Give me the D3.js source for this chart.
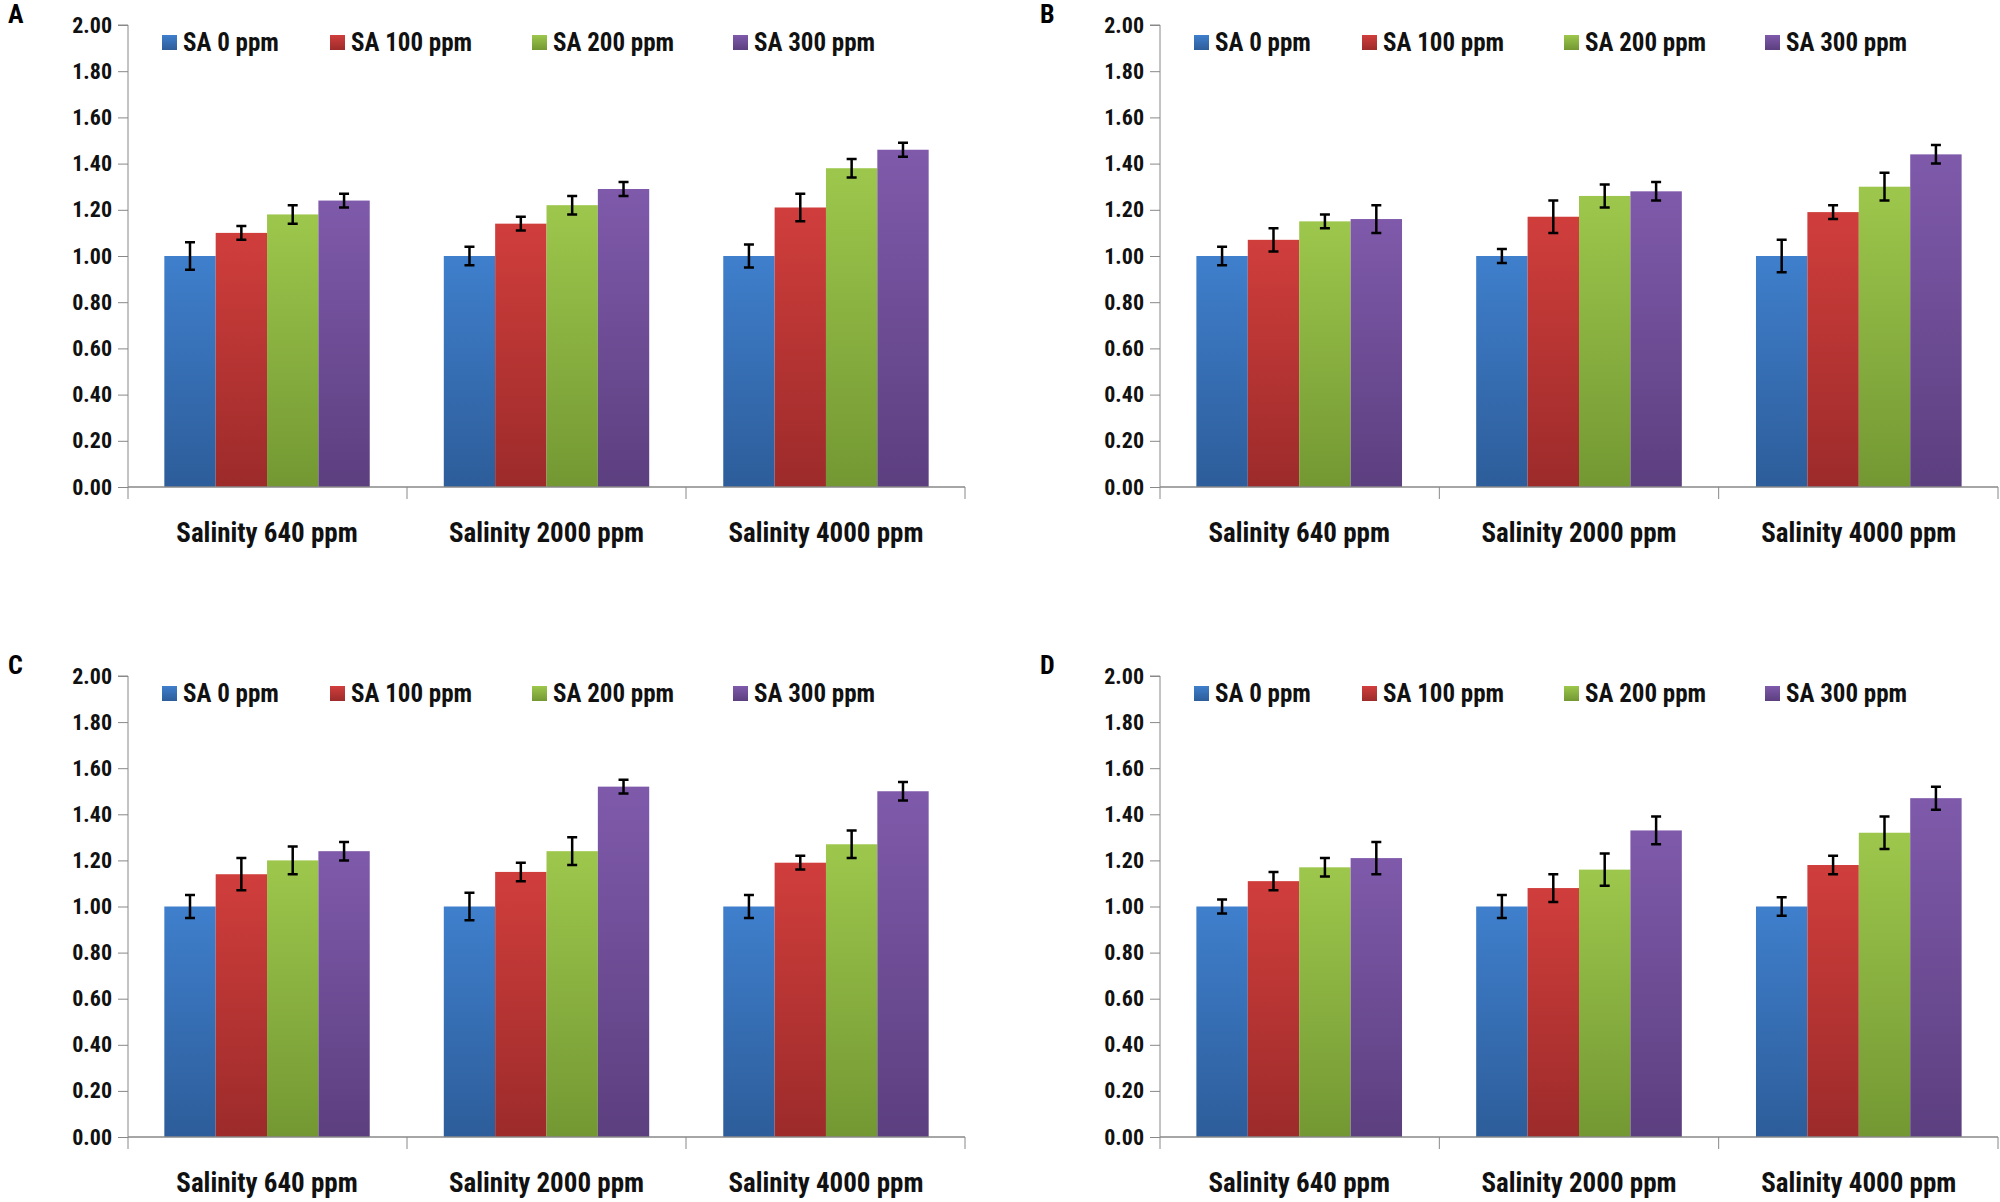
<!DOCTYPE html>
<html><head><meta charset="utf-8">
<script src="https://cdn.jsdelivr.net/npm/d3@7"></script>
<style>body{margin:0;background:#fff}svg{display:block}text{font-family:"Liberation Sans Narrow","Roboto Condensed","Liberation Sans",sans-serif;font-weight:bold}</style>
</head><body><svg id="chart" width="2000" height="1202"></svg>
<script>
const categories = ["Salinity 640 ppm", "Salinity 2000 ppm", "Salinity 4000 ppm"];
const series = ["SA 0 ppm", "SA 100 ppm", "SA 200 ppm", "SA 300 ppm"];
const yTicks = [0, 0.2, 0.4, 0.6, 0.8, 1.0, 1.2, 1.4, 1.6, 1.8, 2.0];
// values[category][series], errors same shape
const valuesA = [[1.00,1.10,1.18,1.24],[1.00,1.14,1.22,1.29],[1.00,1.21,1.38,1.46]];
const errorsA = [[0.06,0.03,0.04,0.03],[0.04,0.03,0.04,0.03],[0.05,0.06,0.04,0.03]];
const valuesB = [[1.00,1.07,1.15,1.16],[1.00,1.17,1.26,1.28],[1.00,1.19,1.30,1.44]];
const errorsB = [[0.04,0.05,0.03,0.06],[0.03,0.07,0.05,0.04],[0.07,0.03,0.06,0.04]];
const valuesC = [[1.00,1.14,1.20,1.24],[1.00,1.15,1.24,1.52],[1.00,1.19,1.27,1.50]];
const errorsC = [[0.05,0.07,0.06,0.04],[0.06,0.04,0.06,0.03],[0.05,0.03,0.06,0.04]];
const valuesD = [[1.00,1.11,1.17,1.21],[1.00,1.08,1.16,1.33],[1.00,1.18,1.32,1.47]];
const errorsD = [[0.03,0.04,0.04,0.07],[0.05,0.06,0.07,0.06],[0.04,0.04,0.07,0.05]];

const colors = [["#3f7fcc","#2d5d9a"],["#d03e3c","#9c2b2a"],["#9dc74c","#739833"],["#7f5aab","#5c3f7f"]];
const svg = d3.select("#chart");
const defs = svg.append("defs");
colors.forEach((c,i)=>{
  const g = defs.append("linearGradient").attr("id","g"+i).attr("x1",0).attr("y1",0).attr("x2",0).attr("y2",1);
  g.append("stop").attr("offset","0%").attr("stop-color",c[0]);
  g.append("stop").attr("offset","100%").attr("stop-color",c[1]);
});

const panels = [
  {label:"A", vals:valuesA, errs:errorsA, x0:128, x1:965, top:25, zero:487},
  {label:"B", vals:valuesB, errs:errorsB, x0:1160, x1:1998, top:25, zero:487},
  {label:"C", vals:valuesC, errs:errorsC, x0:128, x1:965, top:676, zero:1137},
  {label:"D", vals:valuesD, errs:errorsD, x0:1160, x1:1998, top:676, zero:1137}
];

panels.forEach(p=>{
  const g = svg.append("g");
  const y = d3.scaleLinear().domain([0,2]).range([p.zero,p.top]);
  const x = d3.scaleBand().domain(categories).range([p.x0,p.x1]).paddingInner(0.265).paddingOuter(0.13);
  const xs = d3.scaleBand().domain(series).range([0,x.bandwidth()]);

  const ya = g.append("g").attr("transform",`translate(${p.x0},0)`)
    .call(d3.axisLeft(y).tickValues(yTicks).tickFormat(d3.format(".2f")).tickSize(10).tickPadding(6));
  ya.select(".domain").attr("stroke","#888").attr("d",`M-10,${p.top}H0V${p.zero}`);
  ya.selectAll(".tick line").attr("stroke","#888");
  ya.selectAll("text").attr("fill","#111").style("font-size","22px");

  // bars
  categories.forEach((c,ci)=>{
    series.forEach((s,si)=>{
      const v = p.vals[ci][si], e = p.errs[ci][si];
      const bx = x(c)+xs(s);
      g.append("rect").attr("x",bx).attr("y",y(v)).attr("width",xs.bandwidth()).attr("height",y(0)-y(v))
        .attr("fill",`url(#g${si})`);
      const cx = bx+xs.bandwidth()/2;
      g.append("path").attr("d",`M${cx},${y(v+e)}V${y(v-e)}M${cx-5},${y(v+e)}H${cx+5}M${cx-5},${y(v-e)}H${cx+5}`)
        .attr("stroke","#000").attr("stroke-width",2.5).attr("fill","none");
    });
  });

  // x axis
  const step = (p.x1-p.x0)/3;
  g.append("path").attr("d",`M${p.x0},${p.zero}H${p.x1}`).attr("stroke","#888").attr("stroke-width",1.5);
  [0,1,2,3].forEach(i=>{
    g.append("path").attr("d",`M${p.x0+i*step},${p.zero}V${p.zero+12}`).attr("stroke","#888");
  });
  categories.forEach(c=>{
    g.append("text").attr("x",x(c)+x.bandwidth()/2).attr("y",p.zero+55).attr("text-anchor","middle")
      .style("font-size","27px").attr("fill","#111").text(c);
  });

  // legend
  const legOff = [34, 202, 404, 605];
  series.forEach((s,si)=>{
    const lx = p.x0+legOff[si], ly = p.top+18;
    g.append("rect").attr("x",lx).attr("y",ly-8).attr("width",15).attr("height",15).attr("fill",`url(#g${si})`);
    g.append("text").attr("x",lx+21).attr("y",ly+8).style("font-size","25px").attr("fill","#111").text(s);
  });

  g.append("text").attr("x",p.x0-120).attr("y",p.top-2).style("font-size","26px").attr("fill","#000")
    .attr("font-family","Liberation Sans").text(p.label);
});
</script></body></html>
